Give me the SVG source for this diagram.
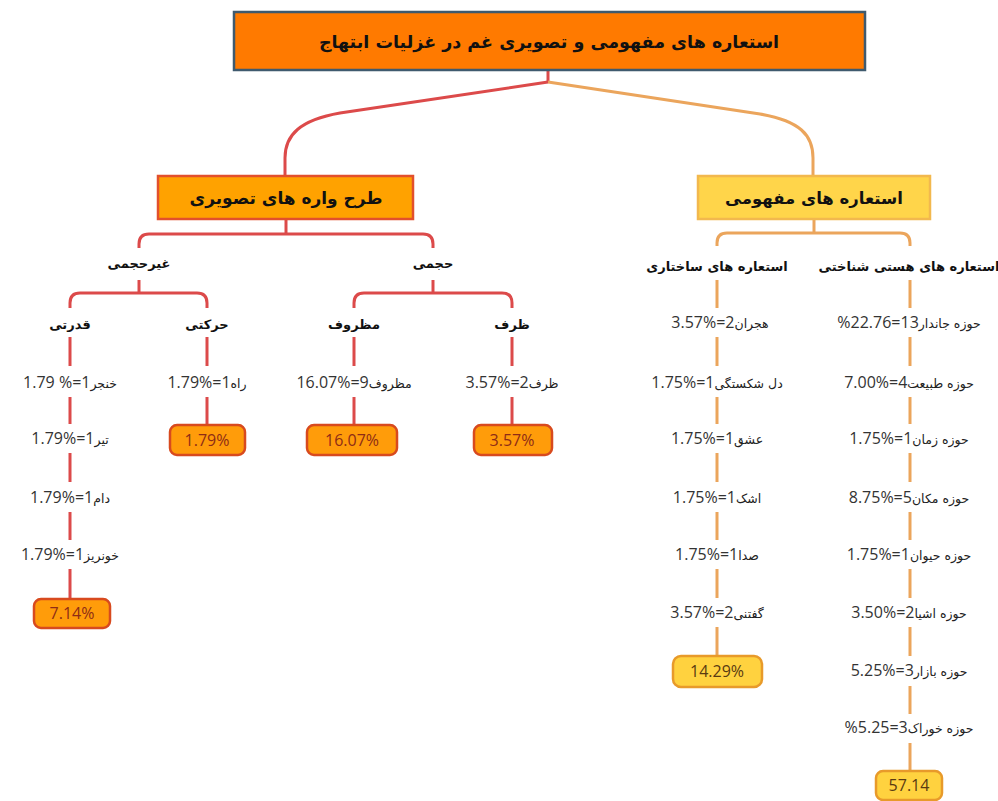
<svg xmlns="http://www.w3.org/2000/svg" width="998" height="801" viewBox="0 0 998 801">
<style>
.red{fill:none;stroke:#DC4A4A;stroke-width:3;stroke-linecap:butt}
.tan{fill:none;stroke:#EBA55C;stroke-width:3;stroke-linecap:butt}
.lbl{font-family:"DejaVu Sans",sans-serif;font-weight:bold;font-size:13px;fill:#111;text-anchor:middle}
.row{text-anchor:middle;fill:#333}
.n{font-family:"Open Sans","Liberation Sans",sans-serif;font-size:16px}
.a{font-family:"DejaVu Sans",sans-serif;font-size:12.5px;fill:#222}
.pb-o rect{fill:#FF9C0A;stroke:#D84A1E;stroke-width:2.5}
.pb-y rect{fill:#FFD23F;stroke:#E89A2A;stroke-width:2.5}
.pt{font-family:"Open Sans","Liberation Sans",sans-serif;font-size:16px;text-anchor:middle}
.pb-o text{fill:#8E2C16}
.pb-y text{fill:#5A3A12}
.box{font-family:"DejaVu Sans",sans-serif;font-weight:bold;text-anchor:middle;fill:#111}
</style>
<rect width="998" height="801" fill="#fff"/>

<g id="connectors">
  <path class="red" d="M548,70 V82"/>
  <path class="tan" d="M548,82 L760,114 C800,121 813,135 813,158 V176"/>
  <path class="red" d="M548,82 L340,113 C300,120 285,135 285,158 V176"/>
  <path class="red" d="M286,219 V234"/>
  <path class="red" d="M139,248 V244 Q139,234 149,234 H423 Q433,234 433,244 V248"/>
  <path class="red" d="M139,280 V293"/>
  <path class="red" d="M70,308 V303 Q70,293 80,293 H197 Q207,293 207,303 V308"/>
  <path class="red" d="M433,280 V293"/>
  <path class="red" d="M354,308 V303 Q354,293 364,293 H502 Q512,293 512,303 V308"/>
  <path class="red" d="M70,337 V366 M207,337 V366 M354,337 V366 M512,337 V366"/>
  <path class="red" d="M207,397 V425 M354,397 V425 M512,397 V425"/>
  <path class="red" d="M70,397 V424 M70,453 V482 M70,512 V540 M70,569 V599"/>
  <path class="tan" d="M814,219 V233"/>
  <path class="tan" d="M717,246 V243 Q717,233 727,233 H900 Q910,233 910,243 V246"/>
  <path class="tan" d="M717,280 V308 M910,280 V308"/>
  <path class="tan" d="M717,337 V366 M717,397 V424 M717,453 V482 M717,512 V540 M717,569 V598 M717,627 V656"/>
  <path class="tan" d="M910,337 V366 M910,397 V424 M910,453 V482 M910,512 V540 M910,569 V598 M910,627 V656 M910,686 V714 M910,743 V771"/>
</g>

<g id="root">
  <rect x="234" y="12" width="631" height="58" fill="#FF7A00" stroke="#3F5A6E" stroke-width="2.5"/>
  <text class="box" x="549" y="48" font-size="17.5">استعاره های مفهومی و تصویری غم در غزلیات ابتهاج</text>
</g>

<g id="imagery">
  <rect x="158" y="176" width="255" height="43" fill="#FFA200" stroke="#E2502C" stroke-width="2.5"/>
  <text class="box" x="286" y="204" font-size="17">طرح واره های تصویری</text>
</g>

<g id="conceptual">
  <rect x="698" y="176" width="232" height="43" fill="#FFD54A" stroke="#F2B84E" stroke-width="2.5"/>
  <text class="box" x="814" y="204" font-size="16.5">استعاره های مفهومی</text>
</g>

<g id="nonvolume"><text class="lbl" x="139" y="268">غیرحجمی</text></g>
<g id="volume"><text class="lbl" x="433" y="268">حجمی</text></g>
<g id="power"><text class="lbl" x="70" y="329">قدرتی</text></g>
<g id="motion"><text class="lbl" x="207" y="329">حرکتی</text></g>
<g id="contained"><text class="lbl" x="354" y="329">مظروف</text></g>
<g id="container"><text class="lbl" x="512" y="329">ظرف</text></g>
<g id="structural"><text class="lbl" x="717" y="271">استعاره های ساختاری</text></g>
<g id="ontological"><text class="lbl" x="909" y="271">استعاره های هستی شناختی</text></g>

<g id="dagger"><text class="row" x="70" y="388"><tspan class="n">1.79 %=1</tspan><tspan class="a">خنجر</tspan></text></g>
<g id="arrow"><text class="row" x="70" y="444"><tspan class="n">1.79%=1</tspan><tspan class="a">تیر</tspan></text></g>
<g id="trap"><text class="row" x="70" y="503"><tspan class="n">1.79%=1</tspan><tspan class="a">دام</tspan></text></g>
<g id="bloody"><text class="row" x="70" y="560"><tspan class="n">1.79%=1</tspan><tspan class="a">خونریز</tspan></text></g>
<g id="sum-power" class="pb-o"><rect x="34" y="599" width="76" height="29" rx="7"/><text class="pt" x="72" y="619">7.14%</text></g>

<g id="road"><text class="row" x="207" y="388"><tspan class="n">1.79%=1</tspan><tspan class="a">راه</tspan></text></g>
<g id="sum-motion" class="pb-o"><rect x="170" y="425" width="75" height="30" rx="7"/><text class="pt" x="207" y="446">1.79%</text></g>

<g id="contained-row"><text class="row" x="354" y="388"><tspan class="n">16.07%=9</tspan><tspan class="a">مظروف</tspan></text></g>
<g id="sum-contained" class="pb-o"><rect x="307" y="425" width="90" height="30" rx="7"/><text class="pt" x="352" y="446">16.07%</text></g>

<g id="container-row"><text class="row" x="512" y="388"><tspan class="n">3.57%=2</tspan><tspan class="a">ظرف</tspan></text></g>
<g id="sum-container" class="pb-o"><rect x="474" y="425" width="78" height="30" rx="7"/><text class="pt" x="512" y="446">3.57%</text></g>

<g id="separation"><text class="row" x="720" y="328"><tspan class="n">3.57%=2</tspan><tspan class="a">هجران</tspan></text></g>
<g id="heartbreak"><text class="row" x="717" y="388"><tspan class="n">1.75%=1</tspan><tspan class="a">دل شکستگی</tspan></text></g>
<g id="love"><text class="row" x="717" y="444"><tspan class="n">1.75%=1</tspan><tspan class="a">عشق</tspan></text></g>
<g id="tear"><text class="row" x="717" y="503"><tspan class="n">1.75%=1</tspan><tspan class="a">اشک</tspan></text></g>
<g id="sound"><text class="row" x="717" y="560"><tspan class="n">1.75%=1</tspan><tspan class="a">صدا</tspan></text></g>
<g id="saying"><text class="row" x="717" y="618"><tspan class="n">3.57%=2</tspan><tspan class="a">گفتنی</tspan></text></g>
<g id="sum-structural" class="pb-y"><rect x="673" y="656" width="89" height="31" rx="8"/><text class="pt" x="717" y="677">14.29%</text></g>

<g id="animate"><text class="row" x="909" y="328"><tspan class="n">%22.76=13</tspan><tspan class="a">حوزه جاندار</tspan></text></g>
<g id="nature"><text class="row" x="909" y="388"><tspan class="n">7.00%=4</tspan><tspan class="a">حوزه طبیعت</tspan></text></g>
<g id="time"><text class="row" x="909" y="444"><tspan class="n">1.75%=1</tspan><tspan class="a">حوزه زمان</tspan></text></g>
<g id="place"><text class="row" x="909" y="503"><tspan class="n">8.75%=5</tspan><tspan class="a">حوزه مکان</tspan></text></g>
<g id="animal"><text class="row" x="909" y="560"><tspan class="n">1.75%=1</tspan><tspan class="a">حوزه حیوان</tspan></text></g>
<g id="objects"><text class="row" x="909" y="618"><tspan class="n">3.50%=2</tspan><tspan class="a">حوزه اشیا</tspan></text></g>
<g id="market"><text class="row" x="909" y="676"><tspan class="n">5.25%=3</tspan><tspan class="a">حوزه بازار</tspan></text></g>
<g id="food"><text class="row" x="909" y="733"><tspan class="n">%5.25=3</tspan><tspan class="a">حوزه خوراک</tspan></text></g>
<g id="sum-ontological" class="pb-y"><rect x="876" y="771" width="66" height="29" rx="7"/><text class="pt" x="909" y="791">57.14</text></g>
</svg>
